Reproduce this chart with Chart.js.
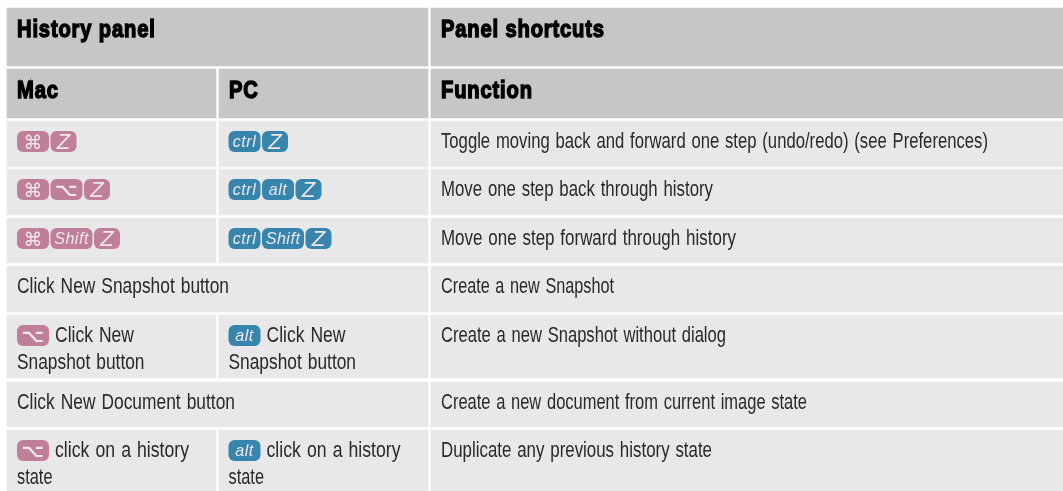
<!DOCTYPE html>
<html>
<head>
<meta charset="utf-8">
<script src="https://cdn.jsdelivr.net/npm/chart.js@4/dist/chart.umd.min.js"></script>
<style>
  html, body { margin: 0; padding: 0; background: #fff; }
  canvas { display: block; }
</style>
</head>
<body>
<canvas id="tableChart" width="1063" height="491"></canvas>
<script>
// table content
var panelTitles = ['History panel', 'Panel shortcuts'];
var columnTitles = ['Mac', 'PC', 'Function'];
var macKeys = [['⌘', 'Z'], ['⌘', '⌥', 'Z'], ['⌘', 'Shift', 'Z'], [], ['⌥'], [], ['⌥']];
var pcKeys = [['ctrl', 'Z'], ['ctrl', 'alt', 'Z'], ['ctrl', 'Shift', 'Z'], [], ['alt'], [], ['alt']];
var macText = [[], [], [], ['Click New Snapshot button'], ['Click New', 'Snapshot button'], ['Click New Document button'], ['click on a history', 'state']];
var pcText = [[], [], [], [], ['Click New', 'Snapshot button'], [], ['click on a history', 'state']];
var functions = [
    'Toggle moving back and forward one step (undo/redo) (see Preferences)',
    'Move one step back through history',
    'Move one step forward through history',
    'Create a new Snapshot',
    'Create a new Snapshot without dialog',
    'Create a new document from current image state',
    'Duplicate any previous history state'
];

// grid of the table, in axis units
var rowEdges = [[8, 66], [69, 118], [121, 167], [169, 215], [218, 263], [266, 312], [315, 378], [382, 427], [430, 491]];
var macColumn = [7, 216];
var pcColumn = [219, 428];
var wideColumn = [7, 428];
var functionColumn = [431, 1063];
var spanRows = [0, 5, 7]; // rows where the left cell runs over Mac and PC
var keyWidths = { '⌘': 32, '⌥': 32, 'Z': 26, 'ctrl': 32, 'alt': 32, 'Shift': 42 };

// measured text widths, the fonts here don't match the original condensed face
var functionWidths = [547, 272, 295, 173, 285, 366, 271];
var lineWidths = {
    'Click New Snapshot button': 212,
    'Click New Document button': 218,
    'Click New': 79,
    'Snapshot button': 127.5,
    'click on a history': 134,
    'state': 35.5
};

var headerColor = '#c5c6c8';
var bodyColor = '#e8e8e8';
var macColor = '#bf7f9b';
var pcColor = '#3785ad';
var bodyInk = '#2b2829';

function cellColor(ctx) {
    return ctx.raw.row < 2 ? headerColor : bodyColor;
}

function columnDataset(column, rows) {
    return {
        data: rows.map(function(r) {
            return { x: (column[0] + column[1]) / 2, y: [rowEdges[r][1], rowEdges[r][0]], row: r };
        }),
        barThickness: column[1] - column[0],
        backgroundColor: cellColor,
        borderWidth: 0
    };
}

function splitRows() {
    return rowEdges.map(function(e, i) { return i; }).filter(function(r) { return spanRows.indexOf(r) < 0; });
}

function drawBody(ctx, text, x, y, width) {
    ctx.save();
    ctx.font = '22px "Liberation Sans"';
    ctx.wordSpacing = '1.5px';
    ctx.translate(x, y);
    ctx.scale(width / ctx.measureText(text).width, 1);
    ctx.fillStyle = bodyInk;
    ctx.fillText(text, 0, 0);
    ctx.restore();
}

function drawHeader(ctx, text, x, y) {
    ctx.save();
    ctx.translate(x, y);
    ctx.scale(0.84, 1);
    ctx.font = 'bold 24px "Liberation Sans"';
    ctx.letterSpacing = '1px';
    ctx.fillStyle = '#000';
    ctx.strokeStyle = '#000';
    ctx.lineWidth = 1.4;
    ctx.fillText(text, 0, 0);
    ctx.strokeText(text, 0, 0);
    ctx.restore();
}

function drawKey(ctx, label, x, top, width, color) {
    ctx.beginPath();
    ctx.roundRect(x, top, width, 21, 6);
    ctx.fillStyle = color;
    ctx.fill();

    ctx.save();
    ctx.translate(x + width / 2, top);
    ctx.fillStyle = '#eee6ea';
    ctx.textAlign = 'center';
    if (label === '⌘') {
        ctx.font = '19px "DejaVu Sans"';
        ctx.fillText(label, 0, 17.5);
    } else if (label === '⌥') {
        ctx.scale(1.1, 1);
        ctx.font = 'bold 18px "DejaVu Sans"';
        ctx.fillText(label, 0, 17);
    } else if (label === 'Z') {
        ctx.font = 'italic 22px "Liberation Sans"';
        ctx.fillText(label, 0, 18);
    } else {
        ctx.scale(0.95, 1);
        ctx.font = 'italic 17px "Liberation Sans"';
        ctx.letterSpacing = '0.5px';
        ctx.fillText(label, 0, 16);
    }
    ctx.restore();
}

// keys and words sit on top of the bars
var tableText = {
    id: 'tableText',
    afterDatasetsDraw: function(chart) {
        var ctx = chart.ctx;
        var sx = chart.scales.x;
        var sy = chart.scales.y;

        drawHeader(ctx, panelTitles[0], sx.getPixelForValue(17), sy.getPixelForValue(rowEdges[0][0] + 29));
        drawHeader(ctx, panelTitles[1], sx.getPixelForValue(441), sy.getPixelForValue(rowEdges[0][0] + 29));
        drawHeader(ctx, columnTitles[0], sx.getPixelForValue(17), sy.getPixelForValue(rowEdges[1][0] + 29));
        drawHeader(ctx, columnTitles[1], sx.getPixelForValue(229), sy.getPixelForValue(rowEdges[1][0] + 29));
        drawHeader(ctx, columnTitles[2], sx.getPixelForValue(441), sy.getPixelForValue(rowEdges[1][0] + 29));

        functions.forEach(function(text, i) {
            var top = rowEdges[i + 2][0];
            drawBody(ctx, text, sx.getPixelForValue(441), sy.getPixelForValue(top + 27), functionWidths[i]);

            [[macKeys, macText, 17, macColor], [pcKeys, pcText, 228.5, pcColor]].forEach(function(side) {
                var x = side[2];
                side[0][i].forEach(function(label) {
                    var w = keyWidths[label];
                    drawKey(ctx, label, sx.getPixelForValue(x), sy.getPixelForValue(top + 10), w, side[3]);
                    x += w + 1.5;
                });
                side[1][i].forEach(function(line, n) {
                    var lineX = n === 0 && side[0][i].length ? x + 4.5 : side[2];
                    drawBody(ctx, line, sx.getPixelForValue(lineX), sy.getPixelForValue(top + 27 + n * 27), lineWidths[line]);
                });
            });
        });
    }
};

window.onload = function() {
    var ctx = document.getElementById('tableChart').getContext('2d');
    new Chart(ctx, {
        type: 'bar',
        data: {
            datasets: [
                columnDataset(macColumn, splitRows()),
                columnDataset(pcColumn, splitRows()),
                columnDataset(wideColumn, spanRows),
                columnDataset(functionColumn, rowEdges.map(function(e, i) { return i; }))
            ]
        },
        options: {
            responsive: false,
            animation: false,
            layout: { padding: 0 },
            datasets: { bar: { grouped: false } },
            scales: {
                x: { type: 'linear', display: false, min: 0, max: 1063, offset: false },
                y: { type: 'linear', display: false, min: 0, max: 491, reverse: true }
            },
            plugins: {
                legend: { display: false },
                tooltip: { enabled: false }
            }
        },
        plugins: [tableText]
    });
};
</script>
</body>
</html>
